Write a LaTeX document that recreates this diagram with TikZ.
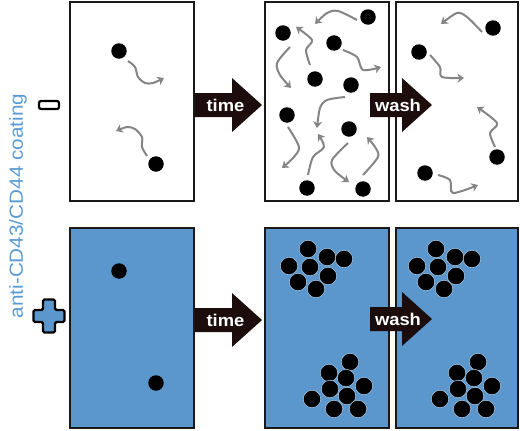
\documentclass[tikz,border=0pt]{standalone}
\usepackage{fontspec}
\usepackage{graphicx}
\setmainfont{Liberation Sans}
\usetikzlibrary{arrows.meta}

\definecolor{coat}{HTML}{5B97CD}
\definecolor{coattext}{HTML}{5A9BD5}
\definecolor{darkarrow}{HTML}{1C0C0C}
\definecolor{wiggray}{HTML}{858585}

\tikzset{
  well/.style={draw=black!90, line width=2pt},
  cell/.style={circle, fill=black, inner sep=0pt, minimum size=15.5pt},
  clump/.style={circle, fill=black, draw=coat!60, line width=0.6pt, inner sep=0pt, minimum size=17.5pt},
  wiggle/.style={draw=wiggray, line width=2pt, -{Stealth[length=6.5pt,width=9pt,inset=2pt]}},
  arrowlabel/.style={text=white, font=\bfseries\fontsize{17}{17}\selectfont, inner sep=0pt},
  signline/.style={draw=black, line width=2.2pt},
}

% name, start, head, tip, y, text
\newcommand{\flowarrow}[6]{%
  \fill[darkarrow] (#2,#5-12) -- (#3,#5-12) -- (#3,#5-27) -- (#4,#5)
    -- (#3,#5+27) -- (#3,#5+12) -- (#2,#5+12) -- cycle;
  \node[arrowlabel] (#1) at ({(#2+#4)/2-3},#5) {\scalebox{1.08}[1]{#6}};}

\begin{document}
\begin{tikzpicture}[x=1pt, y=-1pt]
  \useasboundingbox (0,0) rectangle (520,431);

  % wells
  \draw[well, fill=white] (70,1.5) rectangle (194,201);
  \draw[well, fill=white] (265,1.5) rectangle (389,201);
  \draw[well, fill=white] (396,1.5) rectangle (518,201);
  \draw[well, fill=coat] (70,228) rectangle (194,428);
  \draw[well, fill=coat] (265,228) rectangle (389,428);
  \draw[well, fill=coat] (396,228) rectangle (518,428);

  % label and signs
  \node[text=coattext, rotate=90, font=\fontsize{19}{19}\selectfont, inner sep=0pt]
    (coating) at (18,206) {\scalebox{1.09}[1]{anti-CD43/CD44 coating}};
  \node[signline, fill=white, rounded corners=2pt, minimum width=20pt,
    minimum height=8pt, inner sep=0pt] (minus) at (49,105) {};
  \draw[signline, fill=coat, rounded corners=1.5pt]
    (43,299.5) -- (55,299.5) -- (55,310) -- (64.5,310) -- (64.5,322)
    -- (55,322) -- (55,332.5) -- (43,332.5) -- (43,322)
    -- (33.5,322) -- (33.5,310) -- (43,310) -- cycle;

  % uncoated
  \foreach \x/\y [count=\i] in {119/51, 156/164}
    \node[cell] (u\i) at (\x,\y) {};
  \foreach \x/\y [count=\i] in {368/17, 283/33, 334/43, 315/79, 351/85,
      287/115, 349/129, 307/188, 363/189}
    \node[cell] (m\i) at (\x,\y) {};
  \foreach \x/\y [count=\i] in {493/28, 419/52, 497/157, 425/173}
    \node[cell] (w\i) at (\x,\y) {};

  \draw[wiggle] plot[smooth] coordinates {(128,61) (135,67) (138,77) (145,83) (153,83) (164,78)};
  \draw[wiggle] plot[smooth] coordinates {(147,156) (142,147) (142,137) (135,129) (127,127) (116,131)};

  \draw[wiggle] plot[smooth] coordinates {(357,20) (338,11) (327,13) (315,24)};
  \draw[wiggle] plot[smooth] coordinates {(310,65) (306,50) (312,40) (296,27)};
  \draw[wiggle] plot[smooth] coordinates {(343,50) (357,57) (363,70) (381,67)};
  \draw[wiggle] plot[smooth] coordinates {(290,47) (277,63) (280,75) (291,88)};
  \draw[wiggle] plot[smooth] coordinates {(345,97) (327,100) (320,108) (317,128)};
  \draw[wiggle] plot[smooth] coordinates {(288,127) (299,147) (293,158) (282,168)};
  \draw[wiggle] plot[smooth] coordinates {(308,175) (313,157) (324,147) (318,134)};
  \draw[wiggle] plot[smooth] coordinates {(348,143) (332,160) (335,171) (349,182)};
  \draw[wiggle] plot[smooth] coordinates {(363,175) (378,157) (375,147) (367,137)};

  \draw[wiggle] plot[smooth] coordinates {(482,32) (467,17) (457,13) (441,24)};
  \draw[wiggle] plot[smooth] coordinates {(430,55) (440,67) (442,77) (464,78)};
  \draw[wiggle] plot[smooth] coordinates {(495,147) (490,133) (497,123) (477,107)};
  \draw[wiggle] plot[smooth] coordinates {(438,175) (450,180) (453,193) (478,185)};

  % coated
  \foreach \x/\y [count=\i] in {119/271, 156/383}
    \node[cell] (s\i) at (\x,\y) {};
  \foreach \dx/\p in {0/a, 128/b} {
    \foreach \x/\y [count=\i] in {308/249, 289/266, 310/267, 327/257, 344/259,
        298/282, 328/276, 316/289}
      \node[clump] (t\p\i) at (\x+\dx,\y) {};
    \foreach \x/\y [count=\i] in {350/362, 329/373, 346/378, 364/386, 330/389,
        347/396, 312/399, 334/409, 358/409}
      \node[clump] (b\p\i) at (\x+\dx,\y) {};
  }

  % arrows
  \flowarrow{time1}{195}{232}{262}{105}{time}
  \flowarrow{wash1}{370}{402}{432}{105}{wash}
  \flowarrow{time2}{195}{232}{262}{320}{time}
  \flowarrow{wash2}{370}{402}{432}{319}{wash}
\end{tikzpicture}
\end{document}
